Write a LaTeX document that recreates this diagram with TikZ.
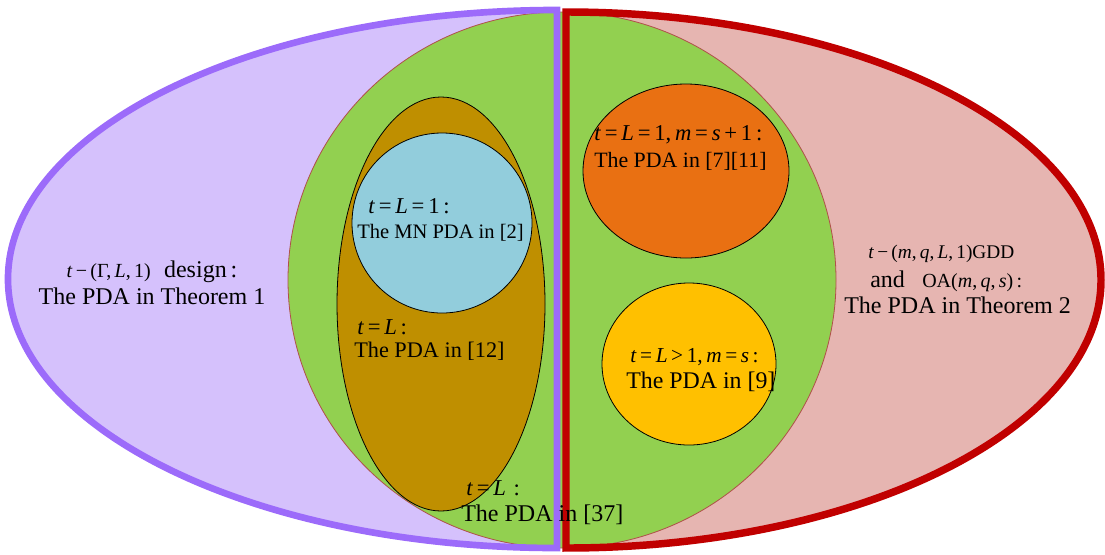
\documentclass[tikz,border=0pt]{standalone}
\usepackage{fontspec}
\setmainfont{Liberation Serif}
\usetikzlibrary{calc}

\definecolor{lilacfill}{HTML}{D5C1FC}
\definecolor{lilacrim}{HTML}{9C6BFA}
\definecolor{rosefill}{HTML}{E6B5B1}
\definecolor{rosered}{HTML}{C00000}
\definecolor{leaf}{HTML}{92D050}
\definecolor{leafrim}{HTML}{B0504A}
\definecolor{ochre}{HTML}{BF8F00}
\definecolor{skyblue}{HTML}{92CDDC}
\definecolor{pumpkin}{HTML}{E97012}
\definecolor{amber}{HTML}{FFC000}

\newcommand{\iv}[1]{\textit{#1}}
\newcommand{\fs}[1]{\fontsize{#1}{#1}\selectfont}

\tikzset{
  txt/.style={inner sep=0pt,anchor=base west},
  txtc/.style={inner sep=0pt,anchor=base},
  blob/.style={draw=black,line width=0.6pt}
}

\begin{document}
\begin{tikzpicture}[x=0.75pt,y=-0.75pt]
\useasboundingbox (0,0) rectangle (1105,554);
\pgfmathsetmacro{\xl}{557}
\pgfmathsetmacro{\xr}{566}
% outer halves
\fill[lilacfill] (\xl,10) arc[start angle=270,end angle=90,x radius=549,y radius=269] -- cycle;
\fill[rosefill] (\xr,12) arc[start angle=-90,end angle=90,x radius=535,y radius=268] -- cycle;
% nested sets
\filldraw[fill=leaf,draw=leafrim,line width=0.6pt] (562,280) ellipse[x radius=274,y radius=268];
\filldraw[blob,fill=ochre] (441,304) ellipse[x radius=104,y radius=207];
\filldraw[blob,fill=skyblue] (442,223) circle[radius=90];
\filldraw[blob,fill=pumpkin] (686,171) ellipse[x radius=103,y radius=87];
\filldraw[blob,fill=amber] (689,364) ellipse[x radius=87,y radius=81];
% rims
\draw[lilacrim,line width=5pt] (\xl,10) arc[start angle=270,end angle=90,x radius=549,y radius=269] -- cycle;
\draw[rosered,line width=5.6pt] (\xr,12) arc[start angle=-90,end angle=90,x radius=535,y radius=268] -- cycle;

% left
\node[txtc] (thm1a) at (152,277) {{\fs{15}\iv{t}\,−\,(Γ,\,\iv{L},\,1)}\quad{\fs{18}design\,:}};
\node[txtc] (thm1b) at (152,304) {\fs{18}The PDA in Theorem 1};
% right
\node[txt] (thm2a) at (868,258) {\fs{14.5}\iv{t}\,−\,(\iv{m},\,\iv{q},\,\iv{L},\,1)GDD};
\node[txt] (thm2b) at (870,287) {{\fs{18}and}\hspace{13pt}{\fs{15}OA(\iv{m},\,\iv{q},\,\iv{s})\,:}};
\node[txt] (thm2c) at (844,313) {\fs{18}The PDA in Theorem 2};
% blue
\node[txt] (mna) at (368,213) {\fs{17}\iv{t}\,=\,\iv{L}\,=\,1\,:};
\node[txt] (mnb) at (357,238) {\fs{15.4}The MN PDA in [2]};
% brown
\node[txt] (refa) at (357,334) {\fs{17}\iv{t}\,=\,\iv{L}\,:};
\node[txt] (refb) at (354,357) {\fs{16.7}The PDA in [12]};
% orange
\node[txt] (orga) at (594,140) {\fs{17}\iv{t}\,=\,\iv{L}\,=\,1,\,\iv{m}\,=\,\iv{s}\,+\,1\,:};
\node[txt] (orgb) at (594,167) {\fs{16.4}The PDA in [7][11]};
% yellow
\node[txt] (yela) at (630,362) {\fs{16}\iv{t}\,=\,\iv{L}\,>\,1,\,\iv{m}\,=\,\iv{s}\,:};
\node[txt] (yelb) at (626,388) {\fs{17.9}The PDA in [9]};
% bottom
\node[txt] (grna) at (466,495) {\fs{17}\iv{t}\,=\,\iv{L}\,\,:};
\node[txt] (grnb) at (461,521) {\fs{18}The PDA in [37]};
\end{tikzpicture}
\end{document}
